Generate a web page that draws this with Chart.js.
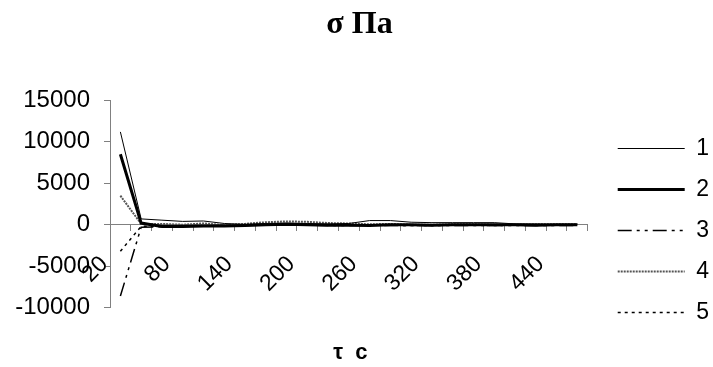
<!DOCTYPE html>
<html lang="ru">
<head>
<meta charset="UTF-8">
<title>σ Па</title>
<script src="https://cdn.jsdelivr.net/npm/chart.js"></script>
<style>
  html, body { margin: 0; padding: 0; background: #fff; }
  #wrap { width: 713px; height: 367px; }
</style>
</head>
<body>
<div id="wrap"><canvas id="chart" width="713" height="367"></canvas></div>
<script>
// time, c
const times = ['20', '40', '60', '80', '100', '120', '140', '160', '180', '200', '220', '240',
               '260', '280', '300', '320', '340', '360', '380', '400', '420', '440', '460'];

// stress values, Pa
const curve1 = [11200, 700, 550, 400, 450, 150, 50, 150, 200, 150, 100, 150,
                500, 500, 300, 250, 250, 250, 250, 100, 100, 50, 50];
const curve2 = [8500, 200, -200, -200, -150, -150, -100, 0, 50, 0, -50, -50,
                -100, 0, 0, -50, 0, 0, 0, 0, -50, 0, 0];
const curve3 = [-8600, -300, -250, -200, -150, -100, -100, -50, -50, -50, -100, -100,
                -50, -100, -100, -100, -100, -100, -100, -100, -100, -100, -100];
const curve4 = [3500, 100, 100, 0, 150, -50, 100, 300, 400, 350, 200, 150,
                50, 100, 0, 0, 50, 50, 0, 0, 50, 50, 50];
const curve5 = [-3200, -200, -150, -100, -100, -100, -50, -50, 0, -50, -50, -50,
                0, -50, -100, -100, -50, -50, -100, -50, -50, -50, -50];

const yTicks = [-10000, -5000, 0, 5000, 10000, 15000];

const axisGrey = '#808080';
const sans = "'Liberation Sans', Arial, sans-serif";
const font = { family: sans, size: 23 };

new Chart(document.getElementById('chart'), {
    type: 'line',
    data: {
        labels: times,
        datasets: [
            { label: '1', data: curve1, borderColor: '#000', borderWidth: 1 },
            { label: '2', data: curve2, borderColor: '#000', borderWidth: 3 },
            { label: '3', data: curve3, borderColor: '#000', borderWidth: 1.5, borderDash: [14, 5, 3, 5, 3, 5] },
            { label: '4', data: curve4, borderColor: '#555', borderWidth: 2, borderDash: [2, 1] },
            { label: '5', data: curve5, borderColor: '#000', borderWidth: 1.5, borderDash: [3, 4] }
        ]
    },
    options: {
        responsive: false,
        animation: false,
        elements: { point: { radius: 0 }, line: { tension: 0 } },
        layout: { padding: { left: 0, right: -6, top: 0, bottom: 0 } },
        scales: {
            x: {
                type: 'category',
                position: { y: 0 },
                offset: true,
                grid: { offset: true, drawOnChartArea: false, tickLength: 6, color: axisGrey },
                border: { color: axisGrey },
                ticks: {
                    autoSkip: false,
                    minRotation: 45,
                    maxRotation: 45,
                    color: '#000',
                    font: font,
                    padding: 20,
                    labelOffset: -16,
                    callback: (v, i) => (i % 3 === 0 ? times[i] : '')
                }
            },
            y: {
                min: yTicks[0],
                max: yTicks[yTicks.length - 1],
                afterBuildTicks: scale => { scale.ticks = yTicks.map(v => ({ value: v })); },
                afterFit: scale => { scale.width = 110; },
                grid: { drawOnChartArea: false, tickLength: 6, color: axisGrey },
                border: { color: axisGrey },
                ticks: { color: '#000', font: { family: sans, size: 24 }, padding: 14, callback: v => String(v) }
            },
            // empty spacer between plot and legend
            gap: {
                type: 'linear',
                position: 'right',
                afterFit: scale => { scale.width = 12; },
                grid: { display: false },
                border: { display: false },
                ticks: { display: false }
            }
        },
        plugins: {
            title: {
                display: true,
                text: 'σ Па',
                color: '#000',
                font: { family: "'Liberation Serif', 'Times New Roman', serif", size: 32, weight: 'bold' },
                padding: { top: 6, bottom: 56 }
            },
            subtitle: {
                display: true,
                position: 'bottom',
                text: 'τ  с   ',
                color: '#000',
                font: { family: sans, size: 22, weight: 'bold' },
                padding: { top: 32, bottom: 1 }
            },
            legend: {
                position: 'right',
                title: { display: true, text: ' ', font: { size: 10 }, padding: { top: 82, bottom: 0 } },
                labels: {
                    usePointStyle: true,
                    pointStyle: 'line',
                    pointStyleWidth: 67,
                    boxHeight: 22,
                    color: '#000',
                    font: font,
                    padding: 18,
                    generateLabels: chart => chart.data.datasets.map((ds, i) => ({
                        text: ds.label,
                        datasetIndex: i,
                        fillStyle: ds.borderColor,
                        strokeStyle: ds.borderColor,
                        lineWidth: ds.borderWidth,
                        lineDash: ds.borderDash || [],
                        pointStyle: 'line',
                        fontColor: '#000',
                        hidden: false
                    }))
                }
            },
            tooltip: { enabled: false }
        }
    }
});
</script>
</body>
</html>
